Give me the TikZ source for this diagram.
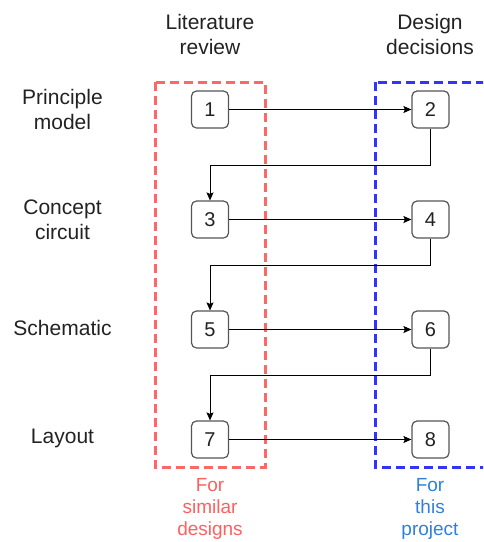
\documentclass[tikz,border=0pt]{standalone}
\usepackage{fontspec}
\setmainfont{Liberation Sans}
\usetikzlibrary{arrows.meta}
\definecolor{dashred}{HTML}{FF6666}
\definecolor{dashblue}{HTML}{3333FF}
\definecolor{txtred}{HTML}{FF5F5F}
\definecolor{txtblue}{HTML}{2F80DC}
\definecolor{boxgray}{HTML}{555555}
\definecolor{txtgray}{HTML}{222222}
\begin{document}
\begin{tikzpicture}[x=1pt,y=-1pt,
  box/.style={draw=boxgray, line width=1.2pt, rounded corners=5pt, minimum width=37pt, minimum height=37pt, inner sep=0pt, font=\fontsize{20}{20}\selectfont, text=txtgray},
  lbl/.style={align=center, font=\fontsize{21}{25}\selectfont, text=txtgray},
  foot/.style={align=center, font=\fontsize{19}{22}\selectfont},
  conn/.style={line width=0.9pt, -{Stealth[length=8pt,width=7pt,inset=1.5pt]}},
  dashbox/.style={line width=3pt, dash pattern=on 9pt off 5pt}
]
\clip (0,0) rectangle (483,542);

% dashed group frames
\draw[dashbox, draw=dashred] (155,82) rectangle (265,467);
\draw[dashbox, draw=dashblue] (375,82) rectangle (500,467);

% headers
\node[lbl] (hlit) at (210,34.5) {Literature\\review};
\node[lbl] (hdes) at (430,34.5) {Design\\decisions};

% row labels
\node[lbl] (lprin) at (62.5,109.5) {Principle\\model};
\node[lbl] (lconc) at (62.5,220) {Concept\\circuit};
\node[lbl] (lsch) at (62.5,328) {Schematic};
\node[lbl] (llay) at (62.5,438) {Layout};

% boxes
\node[box] (n1) at (210,109.5) {1};
\node[box] (n2) at (430.5,109.5) {2};
\node[box] (n3) at (210,219.5) {3};
\node[box] (n4) at (430.5,219.5) {4};
\node[box] (n5) at (210,329.5) {5};
\node[box] (n6) at (430.5,329.5) {6};
\node[box] (n7) at (210,439.5) {7};
\node[box] (n8) at (430.5,439.5) {8};

% footers
\node[foot, text=txtred] (fred) at (210,509) {For\\similar\\designs};
\node[foot, text=txtblue] (fblue) at (430,509) {For\\this\\project};

% connectors
\coordinate (b23) at (210,165.5);
\coordinate (b45) at (210,265.5);
\coordinate (b67) at (210,375.5);
\draw[conn] (n1) -- (n2);
\draw[conn] (n3) -- (n4);
\draw[conn] (n5) -- (n6);
\draw[conn] (n7) -- (n8);
\draw[conn] (n2.south) |- (b23) -- (n3.north);
\draw[conn] (n4.south) |- (b45) -- (n5.north);
\draw[conn] (n6.south) |- (b67) -- (n7.north);
\end{tikzpicture}
\end{document}
